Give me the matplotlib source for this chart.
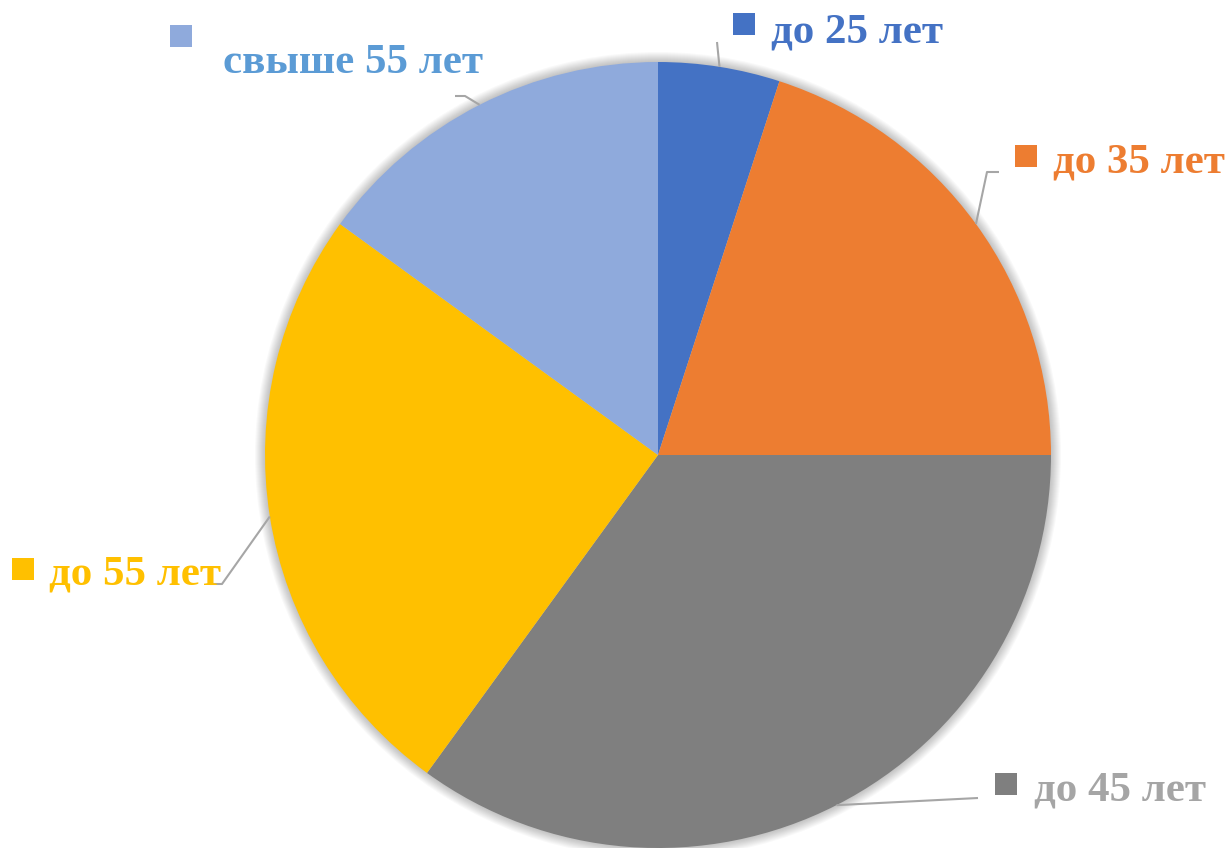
import matplotlib.pyplot as plt
import numpy as np
from matplotlib.patches import Circle, Rectangle

W, H = 1229, 848

labels = ["до 25 лет", "до 35 лет", "до 45 лет", "до 55 лет", "свыше 55 лет"]
shares = [5, 20, 35, 25, 15]
slice_colors = ["#4472C4", "#ED7D31", "#7F7F7F", "#FFC000", "#8FAADC"]
text_colors = ["#4472C4", "#ED7D31", "#A5A5A5", "#FFC000", "#5B9BD5"]

# label layout in pixel coords (x left of text, baseline y, marker box left/top)
text_pos = [(771, 42), (1053, 173), (1034, 801), (49, 585), (223, 73)]
marker_pos = [(733, 13), (1015, 145), (995, 773), (12, 558), (170, 25)]
# elbow points of the leader lines (pixel coords), from label side
leader_tail = [
    [(717, 42)],
    [(999, 172), (987, 172)],
    [(978, 798)],
    [(210, 584), (222, 584)],
    [(455, 96), (465, 96)],
]

CX, CY, R = 658, 455, 393


def px(x, y):
    return x, H - y


fig = plt.figure(figsize=(W / 100, H / 100), dpi=100)
ax = fig.add_axes([0, 0, 1, 1])

center = px(CX, CY)

# soft shadow around the pie
for k in range(1, 11):
    ax.add_patch(Circle(center, R + k, color="black", alpha=0.022, lw=0, zorder=0))

wedges, _ = ax.pie(
    shares,
    colors=slice_colors,
    startangle=90,
    counterclock=False,
    center=center,
    radius=R,
    wedgeprops={"linewidth": 0},
    frame=True,
)
for w in wedges:
    w.set_zorder(2)
ax.set_xlim(0, W)
ax.set_ylim(0, H)
ax.set_aspect("equal")
ax.axis("off")

cum = np.cumsum([0] + shares[:-1])
for i, lab in enumerate(labels):
    mid = np.deg2rad((cum[i] + shares[i] / 2) / 100 * 360)
    edge = (CX + R * np.sin(mid), CY - R * np.cos(mid))
    pts = leader_tail[i] + [edge]
    xs = [p[0] for p in pts]
    ys = [H - p[1] for p in pts]
    ax.plot(xs, ys, color="#A6A6A6", lw=1.5, zorder=3, solid_capstyle="butt")

    mx, my = marker_pos[i]
    ax.add_patch(Rectangle(px(mx, my + 22), 22, 22, color=slice_colors[i], lw=0, zorder=4))

    tx, ty = text_pos[i]
    ax.text(*px(tx, ty), lab, color=text_colors[i], fontsize=31, fontweight="bold",
            family=["Liberation Serif", "DejaVu Serif"], ha="left", va="baseline", zorder=4)

fig.savefig("out.png", dpi=100)
